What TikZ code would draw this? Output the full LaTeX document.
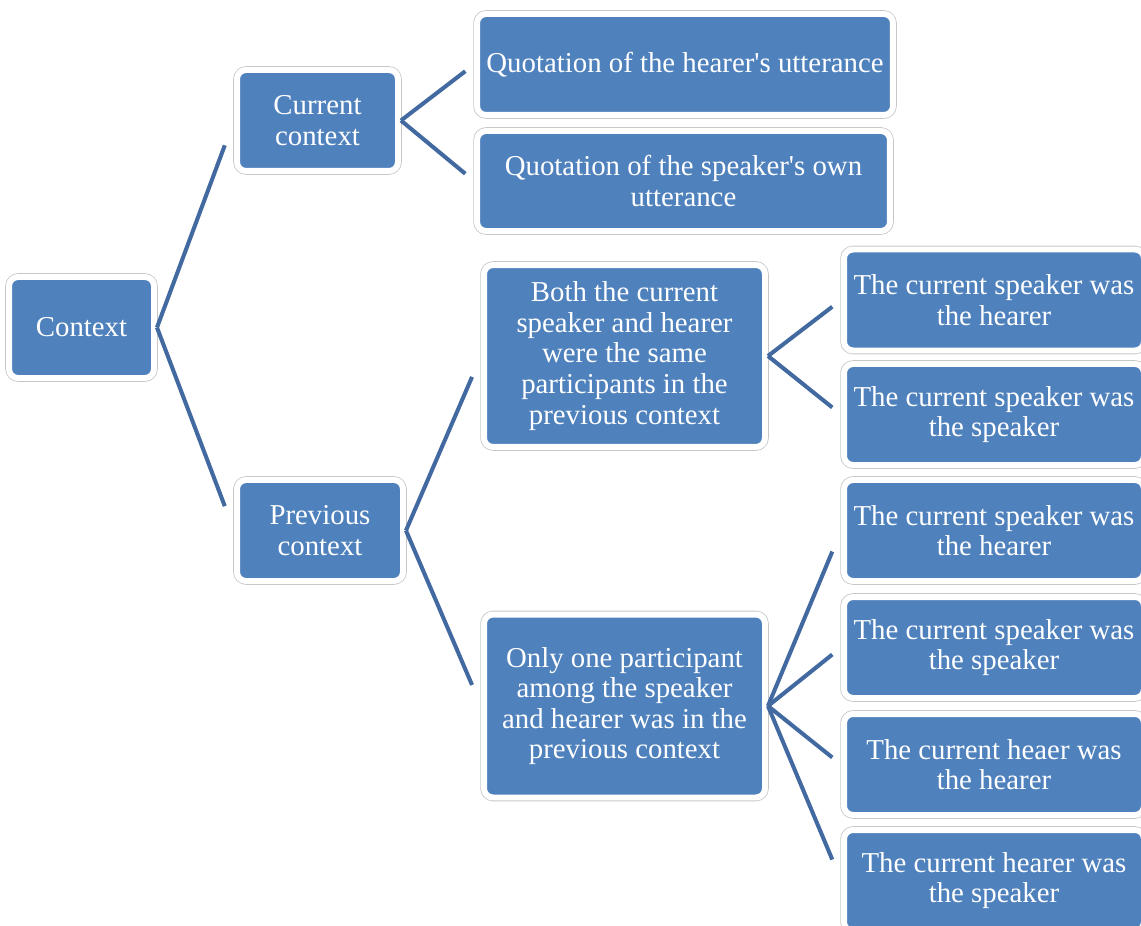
\documentclass[tikz,border=0pt]{standalone}
\usepackage{fontspec}
\setmainfont{Liberation Serif}[Ligatures=TeXOff]
\usetikzlibrary{calc}
\definecolor{boxblue}{RGB}{79,129,189}
\definecolor{linkblue}{RGB}{66,106,160}
\begin{document}
\begin{tikzpicture}[x=0.02cm,y=-0.02cm,
    box/.style={rectangle,rounded corners=0.18cm,fill=boxblue,draw=white,line width=3.4pt,
      preaction={draw=black!22,line width=4.3pt},text=white,align=center,inner sep=0pt,
      minimum height=2.02cm,font=\fontsize{16.4}{17.4}\selectfont},
    link/.style={draw=linkblue,line width=2.3pt}]
    \clip (0,0) rectangle (1141,925);
    \node[box,minimum width=2.90cm] (ctx) at (81.5,327.5) {Context};
    \node[box,minimum width=3.22cm] (cur) at (317.5,120.5) {Current\\context};
    \node[box,minimum width=3.32cm] (prev) at (320,530.5) {Previous\\context};
    \node[box,minimum width=8.32cm] (q1) at (685,64.5) {Quotation of the hearer's utterance};
    \node[box,minimum width=8.26cm,minimum height=2.00cm] (q2) at (683.5,181) {Quotation of the speaker's own\\utterance};
    \node[box,minimum width=5.62cm,minimum height=3.64cm] (both) at (624.5,356)
      {Both the current\\speaker and hearer\\were the same\\participants in the\\previous context};
    \node[box,minimum width=5.62cm,minimum height=3.66cm] (only) at (624.5,706)
      {Only one participant\\among the speaker\\and hearer was in the\\previous context};
    \node[box,minimum width=6.00cm] (b1) at (994,300) {The current speaker was\\the hearer};
    \node[box,minimum width=6.00cm] (b2) at (994,414.5) {The current speaker was\\the speaker};
    \node[box,minimum width=6.00cm] (o1) at (994,530.5) {The current speaker was\\the hearer};
    \node[box,minimum width=6.00cm] (o2) at (994,647.5) {The current speaker was\\the speaker};
    \node[box,minimum width=6.00cm] (o3) at (994,764.5) {The current heaer was\\the hearer};
    \node[box,minimum width=6.00cm] (o4) at (994,880.5) {The current hearer was\\the speaker};
    \foreach \a/\b in {ctx/cur,ctx/prev,cur/q1,cur/q2,prev/both,prev/only,
                       both/b1,both/b2,only/o1,only/o2,only/o3,only/o4}
      \draw[link] (\a.east) -- ($(\a.east)!0.88!(\b.west)$);
\end{tikzpicture}
\end{document}
